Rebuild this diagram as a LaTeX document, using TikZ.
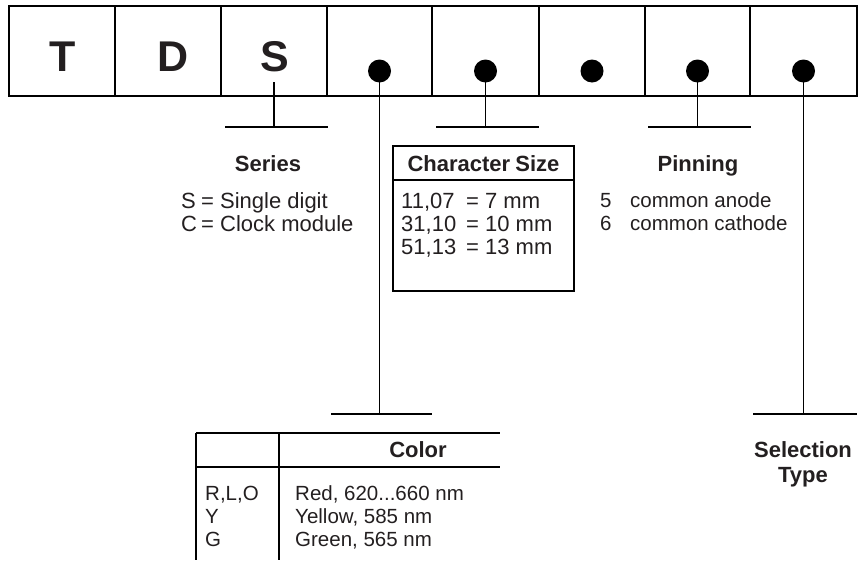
\documentclass[tikz,border=0pt]{standalone}
\usepackage{fontspec}
\setmainfont{Liberation Sans}
\definecolor{ink}{RGB}{35,31,32}
\begin{document}
\begin{tikzpicture}[x=1pt,y=-1pt,
  frame/.style={line width=2.6pt},
  divider/.style={line width=1.2pt},
  stem/.style={line width=1.3pt},
  bigletter/.style={font=\fontsize{43}{43}\selectfont\bfseries, text=ink, inner sep=0, anchor=base},
  dotmark/.style={circle, fill=black, inner sep=0, minimum size=23pt},
  txt/.style={font=\fontsize{20.5}{23}\selectfont, text=ink, inner sep=0, anchor=base west},
  txtbig/.style={txt, font=\fontsize{22}{24}\selectfont},
  head/.style={font=\fontsize{22}{25}\selectfont\bfseries, text=ink, inner sep=0, anchor=base},
  tablebox/.style={line width=1.3pt}
]
\useasboundingbox (0,0) rectangle (859,560);

% code frame with eight positions
\draw[frame] (9,6) rectangle (857,96);
\foreach \x in {115,221,327,432,539,645,750}
  \draw[divider] (\x,6) -- (\x,96);

% fixed letters
\node[bigletter] (lT) at (63,71) {T};
\node[bigletter] (lD) at (173,71) {D};
\node[bigletter] (lS) at (275,71) {S};

% variable positions
\node[dotmark] (d4) at (379.5,71) {};
\node[dotmark] (d5) at (485.5,71) {};
\node[dotmark] (d6) at (592,71) {};
\node[dotmark] (d7) at (697.5,71) {};
\node[dotmark] (d8) at (803.5,71) {};

% leader ends
\coordinate (sS) at (274,82);
\coordinate (eS) at (274,127);
\coordinate (e4) at (379.5,414);
\coordinate (e5) at (485.5,127);
\coordinate (e7) at (697.5,127);
\coordinate (e8) at (803.5,414);

\draw[stem] (sS) -- (eS);
\draw[stem] (225,127) -- (328,127);
\draw[stem] (d4.center) -- (e4);
\draw[stem] (331,414) -- (432,414);
\draw[stem] (d5.center) -- (e5);
\draw[stem] (436,127) -- (539,127);
\draw[stem] (d7.center) -- (e7);
\draw[stem] (648,127) -- (751,127);
\draw[stem] (d8.center) -- (e8);
\draw[stem] (753,414) -- (857,414);

% series
\node[head] (series) at (268,171) {Series};
\node[txtbig] (sA) at (181,208) {S};
\node[txtbig] (sAt) at (201,208) {= Single digit};
\node[txtbig] (sB) at (181,231) {C};
\node[txtbig] (sBt) at (201,231) {= Clock module};

% character size
\draw[tablebox] (393,146) rectangle (574,291);
\draw[tablebox] (393,180) -- (574,180);
\node[head] (csize) at (483.5,171) {Character\kern-1pt\ Size};
\node[txtbig] (c1) at (401,208) {11,07};
\node[txtbig] (c1t) at (466,208) {= 7 mm};
\node[txtbig] (c2) at (401,231) {31,10};
\node[txtbig] (c2t) at (466,231) {= 10 mm};
\node[txtbig] (c3) at (401,254) {51,13};
\node[txtbig] (c3t) at (466,254) {= 13 mm};

% pinning
\node[head] (pin) at (698,171) {Pinning};
\node[txt] (p1) at (600,207) {5};
\node[txt] (p1t) at (630,207) {common anode};
\node[txt] (p2) at (600,230) {6};
\node[txt] (p2t) at (630,230) {common cathode};

% colour table
\draw[tablebox] (196,433) -- (500,433);
\draw[tablebox] (196,467) -- (500,467);
\draw[tablebox] (196,433) -- (196,560);
\draw[tablebox] (279,433) -- (279,560);
\node[head] (colhead) at (418,457) {Color};
\node[txt] (k1) at (205,500) {R,L,O};
\node[txt] (k1t) at (295,500) {Red, 620...660 nm};
\node[txt] (k2) at (205,523) {Y};
\node[txt] (k2t) at (295,523) {Yellow, 585 nm};
\node[txt] (k3) at (205,546) {G};
\node[txt] (k3t) at (295,546) {Green, 565 nm};

% selection type
\node[head] (sel1) at (803,457) {Selection};
\node[head] (sel2) at (803,482) {Type};
\end{tikzpicture}
\end{document}
